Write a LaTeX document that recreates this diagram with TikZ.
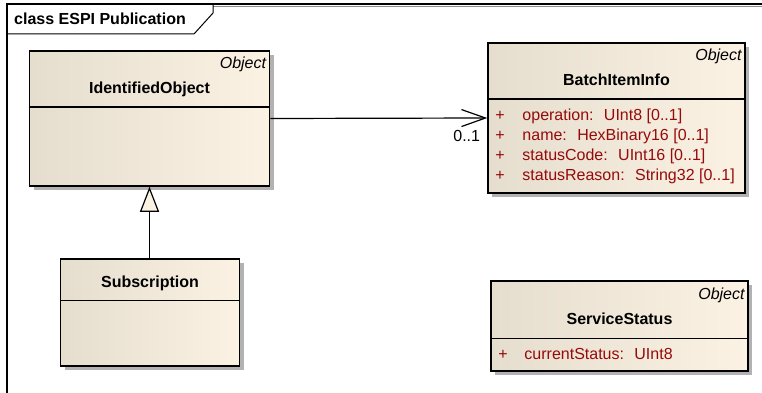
\documentclass[tikz,border=0pt]{standalone}
\usepackage{fontspec}
\setmainfont{Liberation Sans}
\usetikzlibrary{shadows,arrows.meta}

\definecolor{eaLeft}{RGB}{229,221,205}
\definecolor{eaRight}{RGB}{251,242,228}
\definecolor{attrRed}{RGB}{150,10,10}
\newcommand\eafont{\fontsize{16}{19}\selectfont}

\tikzset{
  classbox/.style={draw, line width=1.5pt, rectangle, inner sep=0pt,
    left color=eaLeft, right color=eaRight,
    drop shadow={shadow xshift=4pt, shadow yshift=-4pt, fill=black!30, opacity=1}},
  stereo/.style={anchor=base east, font=\eafont\itshape, inner sep=0pt},
  cname/.style={anchor=base, font=\eafont\bfseries, inner sep=0pt},
  attr/.style={anchor=base west, text=attrRed, inner sep=0pt},
  assoc/.style={line width=1.2pt, -{Straight Barb[length=24pt, width=17pt]}},
  generalize/.style={line width=1.2pt, -{Triangle[open, length=25pt, width=19pt, fill=eaRight]}},
}

\begin{document}
\begin{tikzpicture}[x=1pt, y=-1pt, font=\eafont]
\useasboundingbox (0,0) rectangle (762,393);

% frame
\draw[line width=2pt] (7,393) -- (7,4) -- (762,4);
\draw[black!45, line width=1.5pt] (213,6.5) -- (762,6.5);
\draw[line width=1pt] (7,34) -- (194,34) -- (213,13) -- (213,4);
\node[anchor=base west, font=\eafont\bfseries, inner sep=0pt] (frametitle) at (14,25) {class ESPI Publication};

% classes
\node[classbox, minimum width=240pt, minimum height=135pt] (io) at (149.5,118.5) {};
\draw[line width=1.5pt] ([yshift=-57pt]io.north west) -- ([yshift=-57pt]io.north east);
\node[stereo] (iostereo) at ([xshift=-4pt,yshift=-18.5pt]io.north east) {Object};
\node[cname] (ioname) at ([yshift=-43pt]io.north) {IdentifiedObject};

\node[classbox, minimum width=179pt, minimum height=107pt] (sub) at (150,312.5) {};
\draw[line width=1.5pt] ([yshift=-42pt]sub.north west) -- ([yshift=-42pt]sub.north east);
\node[cname] (subname) at ([yshift=-29pt]sub.north) {Subscription};

\node[classbox, minimum width=257pt, minimum height=150pt] (bii) at (616.5,118) {};
\draw[line width=1.5pt] ([yshift=-57pt]bii.north west) -- ([yshift=-57pt]bii.north east);
\node[stereo] (biistereo) at ([xshift=-4pt,yshift=-18pt]bii.north east) {Object};
\node[cname] (biiname) at ([yshift=-43pt]bii.north) {BatchItemInfo};
\foreach \txt [count=\i] in {{operation:~ UInt8 [0..1]}, {name:~ HexBinary16 [0..1]},
    {statusCode:~ UInt16 [0..1]}, {statusReason:~ String32 [0..1]}} {
  \node[attr] (biiplus\i) at ([xshift=8pt,yshift=-58pt-20pt*\i]bii.north west) {+};
  \node[attr] (biiattr\i) at ([xshift=35pt,yshift=-58pt-20pt*\i]bii.north west) {\txt};
}

\node[classbox, minimum width=257pt, minimum height=90pt] (ss) at (619.5,326) {};
\draw[line width=1.5pt] ([yshift=-58pt]ss.north west) -- ([yshift=-58pt]ss.north east);
\node[stereo] (ssstereo) at ([xshift=-4pt,yshift=-19pt]ss.north east) {Object};
\node[cname] (ssname) at ([yshift=-44pt]ss.north) {ServiceStatus};
\node[attr] (ssplus) at ([xshift=8pt,yshift=-79pt]ss.north west) {+};
\node[attr] (ssattr) at ([xshift=34pt,yshift=-79pt]ss.north west) {currentStatus:~ UInt8};

% connectors
\draw[assoc] (io.east) -- (bii.west);
\node[anchor=base east, inner sep=0pt] (mult) at ([xshift=-7pt,yshift=-23pt]bii.west) {0..1};
\draw[generalize] (sub.north -| io.south) -- (io.south);

\end{tikzpicture}
\end{document}
